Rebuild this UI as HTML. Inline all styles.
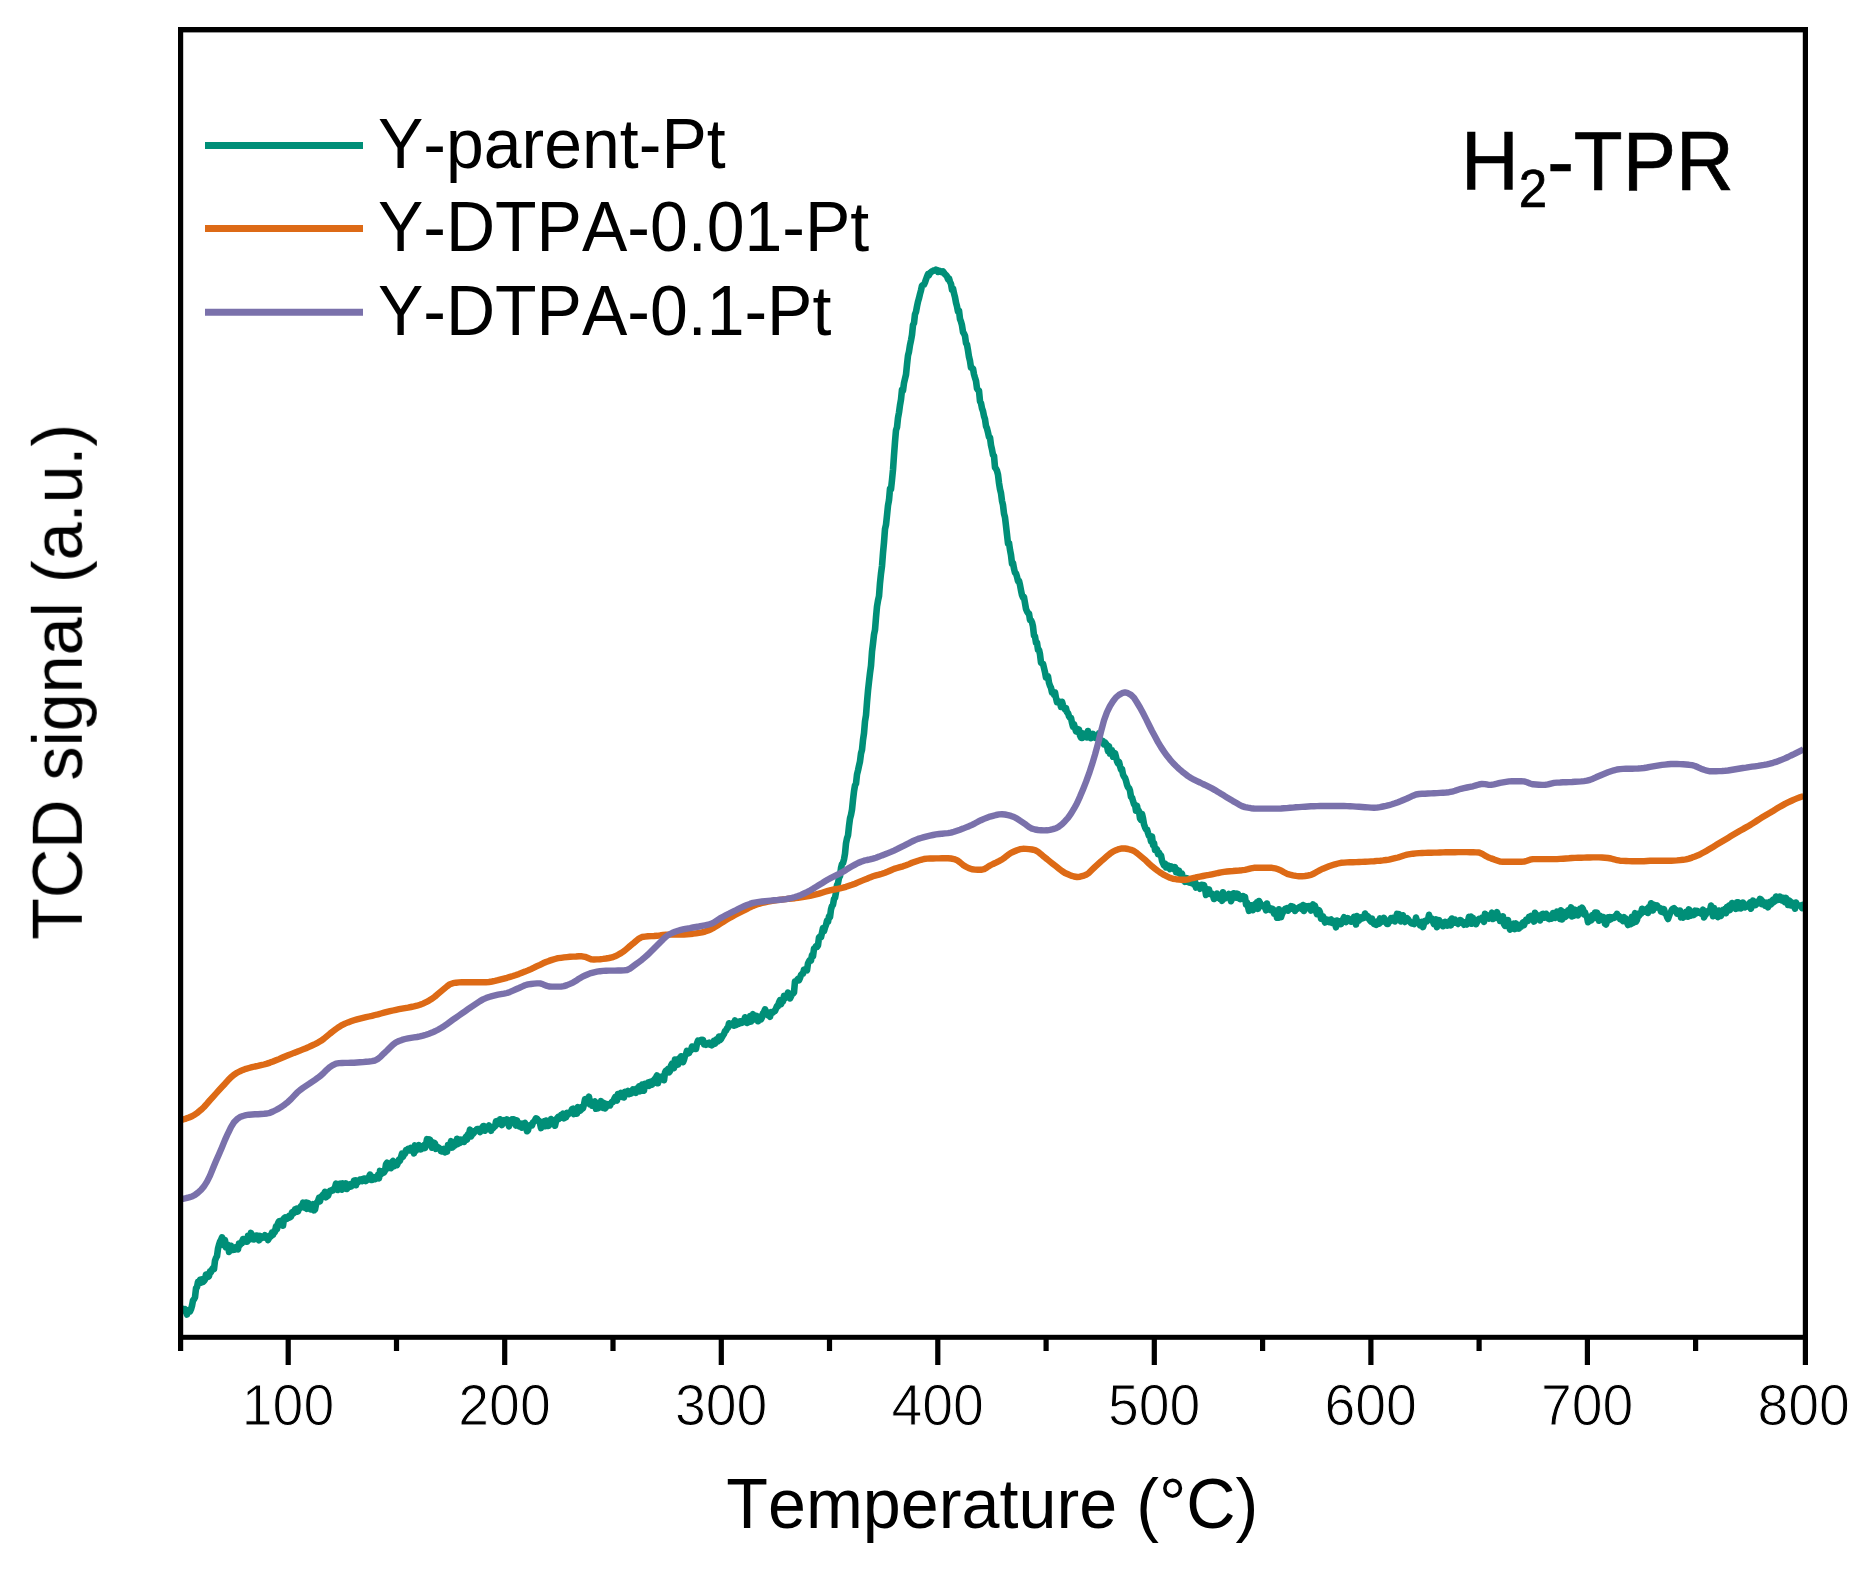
<!DOCTYPE html>
<html lang="en"><head><meta charset="utf-8"><title>H2-TPR</title>
<style>html,body{margin:0;padding:0;background:#fff}body{width:1872px;height:1571px;overflow:hidden}svg{display:block}</style></head>
<body>
<svg width="1872" height="1571" viewBox="0 0 1872 1571">
<rect width="1872" height="1571" fill="#fff"/>
<defs><clipPath id="plot"><rect x="180" y="29" width="1625.5" height="1309"/></clipPath><filter id="soft" x="0" y="0" width="1872" height="1571" filterUnits="userSpaceOnUse"><feGaussianBlur stdDeviation="0.6"/></filter></defs>
<g filter="url(#soft)">
<g clip-path="url(#plot)" fill="none" stroke-linejoin="round" stroke-linecap="butt">
<path d="M180.0 1309.7 L181.0 1311.1 L182.0 1310.2 L183.0 1309.1 L184.0 1310.2 L185.0 1309.3 L186.0 1311.9 L187.0 1314.5 L188.0 1310.2 L189.0 1310.1 L190.0 1311.5 L191.0 1309.2 L192.0 1305.8 L193.0 1300.4 L194.0 1299.3 L195.0 1297.3 L196.0 1288.3 L197.0 1287.2 L198.0 1281.9 L199.0 1282.1 L200.0 1279.9 L201.0 1282.6 L202.0 1279.3 L203.0 1282.0 L204.0 1281.0 L205.0 1279.4 L206.0 1274.5 L207.0 1276.7 L208.0 1277.0 L209.0 1276.2 L210.0 1271.4 L211.0 1272.1 L212.0 1269.6 L213.0 1268.0 L214.0 1269.1 L215.0 1260.6 L216.0 1257.9 L217.0 1256.2 L218.0 1248.6 L219.0 1244.8 L220.0 1241.7 L221.0 1240.0 L222.0 1237.4 L223.0 1241.3 L224.0 1245.3 L225.0 1240.1 L226.0 1247.2 L227.0 1245.9 L228.0 1245.0 L229.0 1251.9 L230.0 1249.6 L231.0 1245.8 L232.0 1248.9 L233.0 1249.8 L234.0 1248.1 L235.0 1249.6 L236.0 1247.3 L237.0 1248.4 L238.0 1249.3 L239.0 1243.5 L240.0 1245.0 L241.0 1242.5 L242.0 1242.9 L243.0 1239.0 L244.0 1239.5 L245.0 1239.6 L246.0 1241.7 L247.0 1241.7 L248.0 1235.8 L249.0 1236.7 L250.0 1239.4 L251.0 1232.9 L252.0 1236.1 L253.0 1236.9 L254.0 1239.4 L255.0 1238.1 L256.0 1235.5 L257.0 1235.5 L258.0 1235.9 L259.0 1240.4 L260.0 1235.9 L261.0 1236.7 L262.0 1238.0 L263.0 1237.2 L264.0 1237.4 L265.0 1235.2 L266.0 1237.8 L267.0 1236.7 L268.0 1240.0 L269.0 1238.1 L270.0 1235.6 L271.0 1236.2 L272.0 1232.7 L273.0 1234.8 L274.0 1231.4 L275.0 1231.8 L276.0 1226.4 L277.0 1229.1 L278.0 1223.3 L279.0 1221.4 L280.0 1224.0 L281.0 1221.0 L282.0 1222.3 L283.0 1225.7 L284.0 1218.4 L285.0 1217.6 L286.0 1219.0 L287.0 1218.8 L288.0 1217.1 L289.0 1216.0 L290.0 1217.4 L291.0 1216.5 L292.0 1212.4 L293.0 1213.6 L294.0 1213.0 L295.0 1209.3 L296.0 1211.7 L297.0 1208.6 L298.0 1211.5 L299.0 1208.7 L300.0 1208.1 L301.0 1206.1 L302.0 1207.1 L303.0 1202.6 L304.0 1204.2 L305.0 1207.8 L306.0 1202.6 L307.0 1208.8 L308.0 1203.0 L309.0 1208.7 L310.0 1205.4 L311.0 1209.4 L312.0 1207.9 L313.0 1204.1 L314.0 1210.3 L315.0 1209.5 L316.0 1204.6 L317.0 1202.3 L318.0 1201.3 L319.0 1198.0 L320.0 1201.3 L321.0 1196.6 L322.0 1196.9 L323.0 1194.6 L324.0 1194.2 L325.0 1191.8 L326.0 1197.3 L327.0 1193.6 L328.0 1195.7 L329.0 1193.1 L330.0 1190.8 L331.0 1191.1 L332.0 1190.1 L333.0 1190.4 L334.0 1188.6 L335.0 1187.4 L336.0 1183.7 L337.0 1184.8 L338.0 1190.0 L339.0 1184.3 L340.0 1183.7 L341.0 1186.9 L342.0 1189.7 L343.0 1183.4 L344.0 1186.2 L345.0 1185.5 L346.0 1183.4 L347.0 1189.0 L348.0 1186.8 L349.0 1186.8 L350.0 1184.4 L351.0 1186.6 L352.0 1183.8 L353.0 1184.0 L354.0 1180.6 L355.0 1180.3 L356.0 1185.2 L357.0 1180.6 L358.0 1182.2 L359.0 1181.1 L360.0 1179.6 L361.0 1179.4 L362.0 1181.1 L363.0 1178.9 L364.0 1178.6 L365.0 1178.5 L366.0 1181.0 L367.0 1179.7 L368.0 1178.6 L369.0 1176.8 L370.0 1174.6 L371.0 1179.9 L372.0 1180.0 L373.0 1176.8 L374.0 1178.4 L375.0 1179.1 L376.0 1178.5 L377.0 1178.4 L378.0 1174.9 L379.0 1178.4 L380.0 1170.9 L381.0 1174.3 L382.0 1171.6 L383.0 1171.2 L384.0 1172.5 L385.0 1170.7 L386.0 1164.3 L387.0 1162.8 L388.0 1168.3 L389.0 1164.3 L390.0 1166.4 L391.0 1168.1 L392.0 1162.1 L393.0 1161.1 L394.0 1166.2 L395.0 1165.4 L396.0 1164.6 L397.0 1165.1 L398.0 1162.5 L399.0 1159.6 L400.0 1160.6 L401.0 1157.1 L402.0 1153.7 L403.0 1156.8 L404.0 1153.8 L405.0 1153.8 L406.0 1150.1 L407.0 1150.5 L408.0 1148.9 L409.0 1148.6 L410.0 1150.4 L411.0 1147.8 L412.0 1150.0 L413.0 1149.5 L414.0 1153.4 L415.0 1145.4 L416.0 1150.7 L417.0 1148.3 L418.0 1148.4 L419.0 1145.2 L420.0 1147.4 L421.0 1149.4 L422.0 1147.0 L423.0 1146.5 L424.0 1145.3 L425.0 1148.0 L426.0 1144.4 L427.0 1139.2 L428.0 1142.2 L429.0 1139.4 L430.0 1139.8 L431.0 1143.0 L432.0 1147.7 L433.0 1145.1 L434.0 1142.7 L435.0 1143.7 L436.0 1148.8 L437.0 1146.5 L438.0 1147.3 L439.0 1147.9 L440.0 1148.8 L441.0 1151.2 L442.0 1151.5 L443.0 1151.2 L444.0 1149.0 L445.0 1152.3 L446.0 1148.5 L447.0 1151.7 L448.0 1145.2 L449.0 1146.2 L450.0 1145.3 L451.0 1141.2 L452.0 1147.6 L453.0 1147.0 L454.0 1142.5 L455.0 1145.3 L456.0 1144.5 L457.0 1138.8 L458.0 1143.9 L459.0 1143.0 L460.0 1142.9 L461.0 1139.6 L462.0 1140.4 L463.0 1139.7 L464.0 1141.9 L465.0 1138.8 L466.0 1136.8 L467.0 1139.7 L468.0 1134.2 L469.0 1133.9 L470.0 1129.6 L471.0 1136.5 L472.0 1134.6 L473.0 1133.9 L474.0 1132.7 L475.0 1130.7 L476.0 1130.7 L477.0 1129.0 L478.0 1129.0 L479.0 1129.0 L480.0 1132.0 L481.0 1129.3 L482.0 1128.0 L483.0 1126.3 L484.0 1126.1 L485.0 1130.7 L486.0 1128.4 L487.0 1127.8 L488.0 1127.1 L489.0 1125.5 L490.0 1128.4 L491.0 1130.8 L492.0 1128.1 L493.0 1128.2 L494.0 1126.9 L495.0 1126.5 L496.0 1121.3 L497.0 1123.4 L498.0 1120.8 L499.0 1123.9 L500.0 1119.3 L501.0 1122.9 L502.0 1125.1 L503.0 1120.9 L504.0 1120.2 L505.0 1122.2 L506.0 1121.5 L507.0 1119.5 L508.0 1122.8 L509.0 1126.3 L510.0 1121.3 L511.0 1121.5 L512.0 1119.5 L513.0 1122.8 L514.0 1119.5 L515.0 1120.1 L516.0 1125.6 L517.0 1120.4 L518.0 1124.8 L519.0 1126.2 L520.0 1123.4 L521.0 1124.3 L522.0 1127.7 L523.0 1123.5 L524.0 1123.9 L525.0 1123.0 L526.0 1127.0 L527.0 1131.2 L528.0 1130.3 L529.0 1125.9 L530.0 1125.4 L531.0 1124.6 L532.0 1125.3 L533.0 1122.5 L534.0 1121.6 L535.0 1120.3 L536.0 1118.3 L537.0 1118.7 L538.0 1120.3 L539.0 1120.7 L540.0 1123.3 L541.0 1128.1 L542.0 1126.1 L543.0 1125.4 L544.0 1121.4 L545.0 1126.2 L546.0 1120.5 L547.0 1121.2 L548.0 1126.0 L549.0 1125.6 L550.0 1123.1 L551.0 1119.0 L552.0 1121.2 L553.0 1120.2 L554.0 1123.1 L555.0 1125.7 L556.0 1121.2 L557.0 1118.5 L558.0 1117.1 L559.0 1118.9 L560.0 1117.8 L561.0 1115.2 L562.0 1117.3 L563.0 1113.6 L564.0 1118.3 L565.0 1117.6 L566.0 1117.2 L567.0 1112.9 L568.0 1114.7 L569.0 1113.2 L570.0 1112.3 L571.0 1111.7 L572.0 1109.1 L573.0 1108.6 L574.0 1114.1 L575.0 1111.4 L576.0 1112.1 L577.0 1113.5 L578.0 1107.2 L579.0 1109.2 L580.0 1110.8 L581.0 1109.9 L582.0 1106.8 L583.0 1108.2 L584.0 1104.4 L585.0 1099.3 L586.0 1099.1 L587.0 1102.7 L588.0 1101.9 L589.0 1096.7 L590.0 1104.2 L591.0 1103.0 L592.0 1105.7 L593.0 1102.1 L594.0 1102.7 L595.0 1101.6 L596.0 1108.8 L597.0 1103.9 L598.0 1108.3 L599.0 1102.8 L600.0 1104.7 L601.0 1101.1 L602.0 1104.3 L603.0 1107.9 L604.0 1103.1 L605.0 1108.5 L606.0 1107.2 L607.0 1104.2 L608.0 1105.5 L609.0 1105.2 L610.0 1105.5 L611.0 1103.4 L612.0 1101.8 L613.0 1101.9 L614.0 1099.4 L615.0 1097.3 L616.0 1099.2 L617.0 1100.4 L618.0 1094.1 L619.0 1096.8 L620.0 1094.7 L621.0 1092.9 L622.0 1096.8 L623.0 1093.3 L624.0 1097.5 L625.0 1091.8 L626.0 1094.1 L627.0 1092.6 L628.0 1091.1 L629.0 1094.1 L630.0 1092.1 L631.0 1093.6 L632.0 1091.7 L633.0 1089.4 L634.0 1091.3 L635.0 1091.4 L636.0 1092.8 L637.0 1088.3 L638.0 1090.1 L639.0 1086.4 L640.0 1091.3 L641.0 1086.7 L642.0 1084.6 L643.0 1088.7 L644.0 1090.6 L645.0 1083.7 L646.0 1083.8 L647.0 1084.1 L648.0 1082.8 L649.0 1085.8 L650.0 1082.0 L651.0 1081.7 L652.0 1084.6 L653.0 1080.7 L654.0 1082.9 L655.0 1078.8 L656.0 1077.5 L657.0 1075.5 L658.0 1083.3 L659.0 1077.3 L660.0 1078.4 L661.0 1076.9 L662.0 1077.0 L663.0 1076.5 L664.0 1080.2 L665.0 1072.6 L666.0 1070.6 L667.0 1070.6 L668.0 1069.0 L669.0 1072.3 L670.0 1071.1 L671.0 1065.7 L672.0 1063.7 L673.0 1064.9 L674.0 1068.1 L675.0 1059.5 L676.0 1064.5 L677.0 1060.2 L678.0 1064.6 L679.0 1058.7 L680.0 1060.1 L681.0 1056.3 L682.0 1057.0 L683.0 1062.2 L684.0 1059.8 L685.0 1055.9 L686.0 1054.2 L687.0 1050.8 L688.0 1053.4 L689.0 1053.0 L690.0 1051.0 L691.0 1050.2 L692.0 1046.5 L693.0 1048.0 L694.0 1047.1 L695.0 1049.0 L696.0 1048.9 L697.0 1043.3 L698.0 1040.6 L699.0 1041.9 L700.0 1040.6 L701.0 1039.9 L702.0 1041.6 L703.0 1040.0 L704.0 1044.3 L705.0 1043.2 L706.0 1044.7 L707.0 1043.8 L708.0 1043.1 L709.0 1042.7 L710.0 1044.5 L711.0 1043.3 L712.0 1045.2 L713.0 1044.2 L714.0 1040.8 L715.0 1043.6 L716.0 1039.7 L717.0 1040.8 L718.0 1041.4 L719.0 1036.5 L720.0 1040.0 L721.0 1039.1 L722.0 1037.1 L723.0 1035.3 L724.0 1034.0 L725.0 1031.0 L726.0 1030.6 L727.0 1028.3 L728.0 1027.8 L729.0 1023.3 L730.0 1025.5 L731.0 1024.9 L732.0 1023.9 L733.0 1023.1 L734.0 1025.6 L735.0 1020.4 L736.0 1025.1 L737.0 1024.4 L738.0 1024.0 L739.0 1023.8 L740.0 1021.2 L741.0 1021.3 L742.0 1022.8 L743.0 1021.9 L744.0 1021.2 L745.0 1017.3 L746.0 1021.9 L747.0 1022.9 L748.0 1022.3 L749.0 1020.5 L750.0 1016.2 L751.0 1021.6 L752.0 1018.6 L753.0 1014.1 L754.0 1019.6 L755.0 1015.7 L756.0 1015.7 L757.0 1017.2 L758.0 1021.2 L759.0 1016.6 L760.0 1017.2 L761.0 1019.4 L762.0 1017.5 L763.0 1013.2 L764.0 1011.9 L765.0 1009.4 L766.0 1011.3 L767.0 1014.5 L768.0 1015.2 L769.0 1015.2 L770.0 1016.8 L771.0 1012.2 L772.0 1012.7 L773.0 1012.6 L774.0 1011.0 L775.0 1011.1 L776.0 1008.5 L777.0 1006.1 L778.0 1006.4 L779.0 1002.3 L780.0 1000.2 L781.0 1004.2 L782.0 1001.7 L783.0 1001.5 L784.0 995.9 L785.0 998.2 L786.0 996.9 L787.0 995.7 L788.0 992.6 L789.0 995.6 L790.0 998.4 L791.0 996.5 L792.0 993.6 L793.0 993.7 L794.0 992.5 L795.0 981.3 L796.0 981.2 L797.0 980.1 L798.0 978.9 L799.0 980.3 L800.0 977.9 L801.0 975.0 L802.0 973.9 L803.0 973.8 L804.0 969.6 L805.0 969.3 L806.0 969.8 L807.0 970.3 L808.0 963.4 L809.0 961.4 L810.0 959.9 L811.0 960.5 L812.0 955.2 L813.0 956.3 L814.0 948.6 L815.0 948.0 L816.0 946.2 L817.0 946.8 L818.0 945.3 L819.0 937.4 L820.0 936.5 L821.0 937.3 L822.0 932.8 L823.0 928.0 L824.0 931.1 L825.0 927.5 L826.0 925.1 L827.0 920.6 L828.0 921.8 L829.0 916.3 L830.0 917.0 L831.0 909.4 L832.0 906.0 L833.0 904.8 L834.0 899.0 L835.0 897.9 L836.0 892.5 L837.0 885.2 L838.0 883.0 L839.0 877.8 L840.0 876.1 L841.0 868.1 L842.0 864.0 L843.0 863.0 L844.0 859.4 L845.0 853.7 L846.0 843.4 L847.0 838.4 L848.0 835.5 L849.0 826.2 L850.0 818.5 L851.0 814.9 L852.0 809.7 L853.0 799.9 L854.0 791.4 L855.0 785.4 L856.0 783.7 L857.0 774.5 L858.0 770.5 L859.0 765.8 L860.0 761.4 L861.0 753.5 L862.0 749.9 L863.0 740.0 L864.0 733.3 L865.0 721.3 L866.0 715.2 L867.0 702.3 L868.0 690.7 L869.0 681.7 L870.0 673.0 L871.0 665.8 L872.0 651.7 L873.0 643.5 L874.0 634.7 L875.0 629.9 L876.0 617.6 L877.0 606.5 L878.0 600.6 L879.0 596.2 L880.0 583.1 L881.0 573.5 L882.0 566.1 L883.0 553.1 L884.0 542.4 L885.0 529.1 L886.0 524.8 L887.0 515.4 L888.0 505.5 L889.0 500.2 L890.0 488.9 L891.0 489.2 L892.0 480.0 L893.0 469.8 L894.0 455.3 L895.0 442.0 L896.0 430.3 L897.0 427.3 L898.0 417.9 L899.0 412.5 L900.0 405.1 L901.0 399.5 L902.0 389.7 L903.0 390.7 L904.0 382.9 L905.0 378.7 L906.0 374.6 L907.0 364.7 L908.0 355.5 L909.0 351.6 L910.0 345.1 L911.0 340.3 L912.0 334.9 L913.0 324.8 L914.0 323.1 L915.0 314.2 L916.0 311.9 L917.0 306.4 L918.0 301.6 L919.0 298.3 L920.0 294.0 L921.0 290.3 L922.0 285.6 L923.0 284.9 L924.0 284.6 L925.0 282.4 L926.0 279.4 L927.0 276.8 L928.0 274.2 L929.0 275.2 L930.0 273.1 L931.0 272.2 L932.0 271.4 L933.0 271.0 L934.0 270.3 L935.0 270.4 L936.0 269.6 L937.0 270.1 L938.0 271.9 L939.0 270.8 L940.0 271.0 L941.0 271.9 L942.0 272.4 L943.0 271.4 L944.0 272.7 L945.0 274.5 L946.0 275.0 L947.0 276.3 L948.0 279.2 L949.0 278.5 L950.0 281.8 L951.0 283.9 L952.0 289.8 L953.0 288.5 L954.0 293.4 L955.0 297.2 L956.0 302.7 L957.0 306.4 L958.0 311.6 L959.0 310.7 L960.0 319.0 L961.0 321.7 L962.0 325.4 L963.0 332.1 L964.0 333.6 L965.0 335.8 L966.0 343.1 L967.0 344.6 L968.0 350.4 L969.0 356.9 L970.0 360.9 L971.0 367.7 L972.0 367.9 L973.0 368.6 L974.0 374.4 L975.0 377.8 L976.0 380.9 L977.0 388.6 L978.0 389.9 L979.0 390.8 L980.0 401.2 L981.0 403.2 L982.0 408.3 L983.0 411.2 L984.0 416.2 L985.0 419.1 L986.0 426.1 L987.0 428.4 L988.0 432.6 L989.0 437.1 L990.0 437.5 L991.0 445.2 L992.0 449.5 L993.0 454.8 L994.0 455.8 L995.0 467.5 L996.0 468.8 L997.0 470.8 L998.0 474.6 L999.0 483.0 L1000.0 489.1 L1001.0 493.1 L1002.0 500.9 L1003.0 505.1 L1004.0 513.7 L1005.0 517.4 L1006.0 525.8 L1007.0 534.5 L1008.0 543.5 L1009.0 542.9 L1010.0 549.9 L1011.0 555.0 L1012.0 563.5 L1013.0 563.1 L1014.0 568.6 L1015.0 572.7 L1016.0 573.4 L1017.0 576.8 L1018.0 581.0 L1019.0 580.8 L1020.0 585.0 L1021.0 590.3 L1022.0 595.1 L1023.0 597.6 L1024.0 597.2 L1025.0 603.1 L1026.0 608.9 L1027.0 611.3 L1028.0 612.8 L1029.0 613.6 L1030.0 620.1 L1031.0 620.2 L1032.0 622.3 L1033.0 626.6 L1034.0 635.6 L1035.0 636.5 L1036.0 642.8 L1037.0 642.8 L1038.0 649.7 L1039.0 649.7 L1040.0 654.3 L1041.0 662.7 L1042.0 663.5 L1043.0 663.8 L1044.0 668.0 L1045.0 672.2 L1046.0 677.7 L1047.0 676.9 L1048.0 676.5 L1049.0 682.7 L1050.0 685.8 L1051.0 687.8 L1052.0 692.5 L1053.0 691.6 L1054.0 694.8 L1055.0 692.4 L1056.0 698.0 L1057.0 702.2 L1058.0 701.0 L1059.0 701.6 L1060.0 702.6 L1061.0 706.9 L1062.0 701.8 L1063.0 705.2 L1064.0 707.7 L1065.0 709.5 L1066.0 708.2 L1067.0 712.2 L1068.0 713.0 L1069.0 716.2 L1070.0 717.8 L1071.0 718.0 L1072.0 722.9 L1073.0 726.7 L1074.0 724.2 L1075.0 728.1 L1076.0 731.4 L1077.0 728.8 L1078.0 732.0 L1079.0 729.5 L1080.0 735.5 L1081.0 737.8 L1082.0 738.0 L1083.0 733.4 L1084.0 735.5 L1085.0 734.1 L1086.0 734.4 L1087.0 737.4 L1088.0 731.0 L1089.0 736.8 L1090.0 734.3 L1091.0 738.1 L1092.0 735.8 L1093.0 733.9 L1094.0 736.5 L1095.0 737.7 L1096.0 736.5 L1097.0 738.2 L1098.0 736.4 L1099.0 733.3 L1100.0 740.8 L1101.0 740.8 L1102.0 740.6 L1103.0 741.2 L1104.0 744.4 L1105.0 742.5 L1106.0 743.6 L1107.0 746.1 L1108.0 751.1 L1109.0 746.3 L1110.0 753.5 L1111.0 750.7 L1112.0 750.4 L1113.0 756.7 L1114.0 754.8 L1115.0 753.2 L1116.0 756.9 L1117.0 761.2 L1118.0 763.6 L1119.0 761.8 L1120.0 766.1 L1121.0 769.6 L1122.0 769.1 L1123.0 774.5 L1124.0 776.6 L1125.0 777.8 L1126.0 780.8 L1127.0 784.7 L1128.0 787.2 L1129.0 788.0 L1130.0 790.7 L1131.0 796.9 L1132.0 797.5 L1133.0 801.1 L1134.0 804.2 L1135.0 804.7 L1136.0 810.6 L1137.0 805.8 L1138.0 811.4 L1139.0 811.1 L1140.0 818.3 L1141.0 819.8 L1142.0 813.9 L1143.0 818.3 L1144.0 824.4 L1145.0 827.2 L1146.0 829.2 L1147.0 829.4 L1148.0 833.0 L1149.0 836.0 L1150.0 836.4 L1151.0 841.3 L1152.0 836.5 L1153.0 844.8 L1154.0 843.1 L1155.0 849.8 L1156.0 848.7 L1157.0 849.5 L1158.0 854.1 L1159.0 852.7 L1160.0 854.7 L1161.0 855.4 L1162.0 860.7 L1163.0 863.2 L1164.0 865.4 L1165.0 863.7 L1166.0 867.5 L1167.0 865.4 L1168.0 865.6 L1169.0 867.6 L1170.0 869.1 L1171.0 866.3 L1172.0 867.0 L1173.0 867.6 L1174.0 869.0 L1175.0 867.1 L1176.0 872.2 L1177.0 869.9 L1178.0 872.6 L1179.0 870.6 L1180.0 873.9 L1181.0 874.5 L1182.0 873.7 L1183.0 880.1 L1184.0 877.5 L1185.0 881.8 L1186.0 880.5 L1187.0 878.2 L1188.0 879.9 L1189.0 882.4 L1190.0 882.6 L1191.0 883.0 L1192.0 882.8 L1193.0 880.2 L1194.0 884.5 L1195.0 881.2 L1196.0 887.6 L1197.0 884.9 L1198.0 885.2 L1199.0 886.9 L1200.0 888.7 L1201.0 885.0 L1202.0 884.8 L1203.0 886.7 L1204.0 885.2 L1205.0 888.6 L1206.0 894.9 L1207.0 889.1 L1208.0 893.5 L1209.0 889.5 L1210.0 893.9 L1211.0 893.2 L1212.0 893.7 L1213.0 895.5 L1214.0 899.0 L1215.0 895.6 L1216.0 895.7 L1217.0 893.6 L1218.0 897.6 L1219.0 896.3 L1220.0 898.8 L1221.0 896.7 L1222.0 900.8 L1223.0 892.2 L1224.0 896.0 L1225.0 898.5 L1226.0 895.6 L1227.0 895.2 L1228.0 896.4 L1229.0 894.0 L1230.0 897.3 L1231.0 901.2 L1232.0 899.0 L1233.0 893.5 L1234.0 893.3 L1235.0 894.2 L1236.0 897.5 L1237.0 893.6 L1238.0 894.2 L1239.0 898.3 L1240.0 899.0 L1241.0 896.9 L1242.0 896.2 L1243.0 896.1 L1244.0 898.9 L1245.0 896.9 L1246.0 904.2 L1247.0 902.6 L1248.0 906.7 L1249.0 910.9 L1250.0 910.0 L1251.0 905.3 L1252.0 909.5 L1253.0 910.1 L1254.0 905.2 L1255.0 904.2 L1256.0 905.7 L1257.0 902.3 L1258.0 908.8 L1259.0 901.0 L1260.0 903.0 L1261.0 904.7 L1262.0 905.0 L1263.0 906.2 L1264.0 907.0 L1265.0 906.4 L1266.0 910.3 L1267.0 903.5 L1268.0 908.9 L1269.0 907.4 L1270.0 909.8 L1271.0 910.3 L1272.0 908.6 L1273.0 909.3 L1274.0 913.6 L1275.0 912.9 L1276.0 911.1 L1277.0 917.8 L1278.0 917.8 L1279.0 909.3 L1280.0 913.7 L1281.0 917.2 L1282.0 914.1 L1283.0 912.2 L1284.0 910.5 L1285.0 909.0 L1286.0 909.8 L1287.0 908.3 L1288.0 910.7 L1289.0 907.8 L1290.0 907.9 L1291.0 906.1 L1292.0 908.6 L1293.0 906.6 L1294.0 908.1 L1295.0 910.9 L1296.0 909.1 L1297.0 908.8 L1298.0 908.2 L1299.0 907.5 L1300.0 906.8 L1301.0 906.4 L1302.0 909.0 L1303.0 905.0 L1304.0 911.0 L1305.0 908.1 L1306.0 906.1 L1307.0 906.8 L1308.0 906.3 L1309.0 908.2 L1310.0 906.3 L1311.0 910.6 L1312.0 906.5 L1313.0 904.5 L1314.0 908.0 L1315.0 905.8 L1316.0 911.1 L1317.0 914.2 L1318.0 913.9 L1319.0 910.1 L1320.0 912.3 L1321.0 918.6 L1322.0 916.2 L1323.0 916.3 L1324.0 919.6 L1325.0 922.5 L1326.0 921.9 L1327.0 919.6 L1328.0 920.8 L1329.0 922.1 L1330.0 920.0 L1331.0 919.5 L1332.0 922.8 L1333.0 920.8 L1334.0 922.7 L1335.0 922.9 L1336.0 927.3 L1337.0 920.5 L1338.0 922.1 L1339.0 921.5 L1340.0 922.6 L1341.0 924.0 L1342.0 920.7 L1343.0 919.4 L1344.0 917.3 L1345.0 918.7 L1346.0 922.0 L1347.0 920.6 L1348.0 918.2 L1349.0 919.3 L1350.0 920.4 L1351.0 921.6 L1352.0 919.2 L1353.0 920.5 L1354.0 916.8 L1355.0 918.1 L1356.0 924.5 L1357.0 916.0 L1358.0 919.4 L1359.0 920.4 L1360.0 918.8 L1361.0 917.5 L1362.0 918.6 L1363.0 918.1 L1364.0 917.7 L1365.0 913.5 L1366.0 917.4 L1367.0 915.6 L1368.0 916.5 L1369.0 919.1 L1370.0 920.4 L1371.0 921.6 L1372.0 918.7 L1373.0 922.7 L1374.0 923.9 L1375.0 924.1 L1376.0 924.8 L1377.0 921.6 L1378.0 921.4 L1379.0 923.8 L1380.0 918.4 L1381.0 922.2 L1382.0 920.7 L1383.0 921.2 L1384.0 917.9 L1385.0 920.0 L1386.0 922.1 L1387.0 924.0 L1388.0 923.9 L1389.0 920.8 L1390.0 920.2 L1391.0 918.2 L1392.0 920.5 L1393.0 918.0 L1394.0 919.2 L1395.0 921.4 L1396.0 917.4 L1397.0 913.9 L1398.0 915.5 L1399.0 914.2 L1400.0 915.3 L1401.0 921.4 L1402.0 919.2 L1403.0 915.3 L1404.0 920.5 L1405.0 921.9 L1406.0 918.6 L1407.0 918.2 L1408.0 919.1 L1409.0 920.8 L1410.0 921.7 L1411.0 923.0 L1412.0 923.5 L1413.0 923.6 L1414.0 924.1 L1415.0 922.9 L1416.0 917.6 L1417.0 921.2 L1418.0 922.6 L1419.0 921.9 L1420.0 925.3 L1421.0 923.2 L1422.0 922.0 L1423.0 927.1 L1424.0 923.6 L1425.0 920.7 L1426.0 920.6 L1427.0 921.2 L1428.0 919.6 L1429.0 914.8 L1430.0 918.3 L1431.0 919.4 L1432.0 918.7 L1433.0 921.8 L1434.0 924.2 L1435.0 920.7 L1436.0 919.4 L1437.0 927.2 L1438.0 921.7 L1439.0 920.1 L1440.0 924.1 L1441.0 924.7 L1442.0 922.3 L1443.0 926.2 L1444.0 923.0 L1445.0 922.1 L1446.0 924.9 L1447.0 925.6 L1448.0 922.3 L1449.0 923.0 L1450.0 920.8 L1451.0 925.3 L1452.0 918.6 L1453.0 923.1 L1454.0 920.3 L1455.0 919.8 L1456.0 922.7 L1457.0 923.0 L1458.0 923.9 L1459.0 922.1 L1460.0 920.1 L1461.0 920.2 L1462.0 922.8 L1463.0 922.5 L1464.0 924.7 L1465.0 922.4 L1466.0 923.3 L1467.0 924.4 L1468.0 921.0 L1469.0 916.9 L1470.0 917.7 L1471.0 916.7 L1472.0 923.7 L1473.0 918.1 L1474.0 922.9 L1475.0 921.5 L1476.0 924.2 L1477.0 922.3 L1478.0 919.6 L1479.0 918.9 L1480.0 919.4 L1481.0 919.3 L1482.0 917.6 L1483.0 918.3 L1484.0 921.8 L1485.0 913.8 L1486.0 918.2 L1487.0 915.1 L1488.0 917.4 L1489.0 918.5 L1490.0 916.0 L1491.0 917.8 L1492.0 912.7 L1493.0 918.9 L1494.0 915.1 L1495.0 918.0 L1496.0 916.9 L1497.0 912.2 L1498.0 915.3 L1499.0 917.2 L1500.0 920.9 L1501.0 918.6 L1502.0 919.3 L1503.0 916.4 L1504.0 924.2 L1505.0 925.9 L1506.0 922.8 L1507.0 922.5 L1508.0 920.1 L1509.0 926.3 L1510.0 929.5 L1511.0 926.8 L1512.0 928.1 L1513.0 926.8 L1514.0 923.6 L1515.0 929.1 L1516.0 923.4 L1517.0 925.7 L1518.0 926.9 L1519.0 928.5 L1520.0 926.9 L1521.0 926.8 L1522.0 923.9 L1523.0 922.4 L1524.0 925.1 L1525.0 922.3 L1526.0 919.9 L1527.0 919.8 L1528.0 920.8 L1529.0 916.8 L1530.0 917.3 L1531.0 915.9 L1532.0 919.3 L1533.0 919.0 L1534.0 921.5 L1535.0 912.9 L1536.0 914.7 L1537.0 918.0 L1538.0 915.5 L1539.0 915.7 L1540.0 920.5 L1541.0 916.1 L1542.0 914.2 L1543.0 913.8 L1544.0 917.7 L1545.0 917.7 L1546.0 913.8 L1547.0 914.9 L1548.0 918.4 L1549.0 919.0 L1550.0 916.1 L1551.0 918.7 L1552.0 918.5 L1553.0 913.0 L1554.0 916.5 L1555.0 917.8 L1556.0 915.1 L1557.0 911.6 L1558.0 915.3 L1559.0 917.3 L1560.0 918.8 L1561.0 910.4 L1562.0 919.5 L1563.0 911.8 L1564.0 916.6 L1565.0 917.1 L1566.0 916.4 L1567.0 914.0 L1568.0 910.3 L1569.0 914.2 L1570.0 910.7 L1571.0 907.4 L1572.0 916.4 L1573.0 913.0 L1574.0 915.6 L1575.0 909.7 L1576.0 914.5 L1577.0 915.1 L1578.0 915.4 L1579.0 911.7 L1580.0 909.0 L1581.0 911.6 L1582.0 907.7 L1583.0 909.3 L1584.0 914.3 L1585.0 912.5 L1586.0 915.6 L1587.0 916.8 L1588.0 922.2 L1589.0 920.9 L1590.0 918.0 L1591.0 920.5 L1592.0 915.4 L1593.0 915.8 L1594.0 918.2 L1595.0 912.5 L1596.0 915.0 L1597.0 912.7 L1598.0 916.3 L1599.0 920.7 L1600.0 915.8 L1601.0 919.0 L1602.0 917.3 L1603.0 917.0 L1604.0 917.3 L1605.0 923.7 L1606.0 924.5 L1607.0 921.1 L1608.0 917.4 L1609.0 920.1 L1610.0 917.2 L1611.0 919.1 L1612.0 917.4 L1613.0 917.6 L1614.0 917.9 L1615.0 916.1 L1616.0 916.7 L1617.0 913.9 L1618.0 917.4 L1619.0 915.9 L1620.0 919.0 L1621.0 917.6 L1622.0 919.9 L1623.0 921.0 L1624.0 917.2 L1625.0 918.9 L1626.0 918.7 L1627.0 922.6 L1628.0 925.0 L1629.0 923.1 L1630.0 920.4 L1631.0 924.1 L1632.0 916.7 L1633.0 923.1 L1634.0 917.4 L1635.0 913.2 L1636.0 921.7 L1637.0 919.9 L1638.0 913.8 L1639.0 915.9 L1640.0 914.2 L1641.0 913.8 L1642.0 908.8 L1643.0 909.5 L1644.0 911.5 L1645.0 910.2 L1646.0 911.6 L1647.0 908.9 L1648.0 913.0 L1649.0 907.0 L1650.0 908.6 L1651.0 903.3 L1652.0 904.2 L1653.0 910.4 L1654.0 904.8 L1655.0 908.0 L1656.0 906.8 L1657.0 905.4 L1658.0 907.4 L1659.0 907.6 L1660.0 908.2 L1661.0 911.5 L1662.0 911.8 L1663.0 909.1 L1664.0 909.3 L1665.0 913.4 L1666.0 913.7 L1667.0 916.8 L1668.0 919.0 L1669.0 916.1 L1670.0 913.4 L1671.0 911.7 L1672.0 909.5 L1673.0 908.7 L1674.0 908.2 L1675.0 909.7 L1676.0 910.0 L1677.0 913.6 L1678.0 912.0 L1679.0 912.7 L1680.0 910.6 L1681.0 917.3 L1682.0 914.5 L1683.0 917.5 L1684.0 914.8 L1685.0 916.4 L1686.0 911.9 L1687.0 913.8 L1688.0 916.7 L1689.0 909.4 L1690.0 914.5 L1691.0 915.5 L1692.0 912.3 L1693.0 913.5 L1694.0 914.9 L1695.0 910.6 L1696.0 913.5 L1697.0 910.8 L1698.0 911.5 L1699.0 911.5 L1700.0 912.7 L1701.0 913.6 L1702.0 914.1 L1703.0 909.6 L1704.0 917.4 L1705.0 915.3 L1706.0 914.2 L1707.0 911.5 L1708.0 911.2 L1709.0 911.8 L1710.0 910.5 L1711.0 905.6 L1712.0 912.2 L1713.0 916.2 L1714.0 908.0 L1715.0 915.6 L1716.0 914.6 L1717.0 913.7 L1718.0 917.0 L1719.0 910.6 L1720.0 913.0 L1721.0 915.8 L1722.0 911.2 L1723.0 910.0 L1724.0 910.9 L1725.0 909.0 L1726.0 913.2 L1727.0 907.1 L1728.0 910.9 L1729.0 905.7 L1730.0 910.0 L1731.0 907.8 L1732.0 903.0 L1733.0 907.1 L1734.0 904.0 L1735.0 904.8 L1736.0 908.9 L1737.0 902.3 L1738.0 902.2 L1739.0 908.2 L1740.0 904.9 L1741.0 908.3 L1742.0 905.4 L1743.0 902.7 L1744.0 904.2 L1745.0 907.3 L1746.0 906.9 L1747.0 904.6 L1748.0 904.6 L1749.0 904.0 L1750.0 902.5 L1751.0 908.7 L1752.0 903.9 L1753.0 900.6 L1754.0 902.2 L1755.0 905.2 L1756.0 904.7 L1757.0 903.0 L1758.0 901.4 L1759.0 903.0 L1760.0 898.9 L1761.0 899.4 L1762.0 904.2 L1763.0 901.5 L1764.0 903.4 L1765.0 905.5 L1766.0 904.2 L1767.0 902.7 L1768.0 907.3 L1769.0 904.3 L1770.0 901.9 L1771.0 904.4 L1772.0 903.3 L1773.0 900.0 L1774.0 901.8 L1775.0 901.1 L1776.0 896.5 L1777.0 900.1 L1778.0 899.7 L1779.0 899.5 L1780.0 896.6 L1781.0 899.6 L1782.0 900.5 L1783.0 900.7 L1784.0 898.0 L1785.0 902.2 L1786.0 897.9 L1787.0 900.7 L1788.0 905.0 L1789.0 900.4 L1790.0 901.1 L1791.0 905.4 L1792.0 902.7 L1793.0 903.9 L1794.0 905.8 L1795.0 908.7 L1796.0 902.5 L1797.0 905.7 L1798.0 905.5 L1799.0 905.3 L1800.0 905.6 L1801.0 905.7 L1802.0 908.1 L1803.0 904.9 L1803.5 907.0" stroke="#048f78" stroke-width="6.6"/>
<path d="M180.0 1120.0 L183.0 1119.5 L186.0 1118.6 L189.0 1117.5 L192.0 1116.2 L195.0 1114.5 L198.0 1112.3 L201.0 1109.8 L204.0 1107.0 L207.0 1103.7 L210.0 1100.2 L213.0 1096.9 L216.0 1093.5 L219.0 1090.2 L222.0 1086.9 L225.0 1083.7 L228.0 1080.3 L231.0 1077.2 L234.0 1074.7 L237.0 1072.8 L240.0 1071.2 L243.0 1069.9 L246.0 1068.8 L249.0 1068.0 L252.0 1067.2 L255.0 1066.5 L258.0 1065.9 L261.0 1065.2 L264.0 1064.5 L267.0 1063.6 L270.0 1062.6 L273.0 1061.5 L276.0 1060.3 L279.0 1059.1 L282.0 1057.8 L285.0 1056.5 L288.0 1055.3 L291.0 1054.1 L294.0 1052.9 L297.0 1051.8 L300.0 1050.6 L303.0 1049.4 L306.0 1048.2 L309.0 1046.9 L312.0 1045.5 L315.0 1044.1 L318.0 1042.6 L321.0 1040.8 L324.0 1038.6 L327.0 1036.1 L330.0 1033.6 L333.0 1031.3 L336.0 1029.0 L339.0 1026.9 L342.0 1025.1 L345.0 1023.6 L348.0 1022.4 L351.0 1021.3 L354.0 1020.3 L357.0 1019.4 L360.0 1018.6 L363.0 1017.9 L366.0 1017.2 L369.0 1016.5 L372.0 1015.8 L375.0 1015.0 L378.0 1014.3 L381.0 1013.5 L384.0 1012.7 L387.0 1011.9 L390.0 1011.2 L393.0 1010.5 L396.0 1009.8 L399.0 1009.2 L402.0 1008.6 L405.0 1008.1 L408.0 1007.6 L411.0 1007.0 L414.0 1006.4 L417.0 1005.7 L420.0 1004.8 L423.0 1003.6 L426.0 1002.2 L429.0 1000.6 L432.0 998.8 L435.0 996.5 L438.0 993.9 L441.0 991.4 L444.0 988.9 L447.0 986.4 L450.0 984.2 L453.0 983.2 L456.0 982.7 L459.0 982.4 L462.0 982.2 L465.0 982.2 L468.0 982.2 L471.0 982.2 L474.0 982.2 L477.0 982.2 L480.0 982.2 L483.0 982.2 L486.0 982.2 L489.0 982.0 L492.0 981.5 L495.0 980.9 L498.0 980.2 L501.0 979.4 L504.0 978.6 L507.0 977.8 L510.0 976.9 L513.0 976.0 L516.0 975.0 L519.0 973.9 L522.0 972.7 L525.0 971.6 L528.0 970.4 L531.0 969.1 L534.0 967.7 L537.0 966.2 L540.0 964.8 L543.0 963.3 L546.0 962.0 L549.0 960.9 L552.0 959.9 L555.0 959.0 L558.0 958.2 L561.0 957.8 L564.0 957.4 L567.0 957.1 L570.0 956.8 L573.0 956.6 L576.0 956.5 L579.0 956.3 L582.0 956.3 L585.0 956.8 L588.0 958.0 L591.0 959.2 L594.0 959.5 L597.0 959.4 L600.0 959.2 L603.0 958.9 L606.0 958.5 L609.0 958.0 L612.0 957.4 L615.0 956.3 L618.0 954.8 L621.0 953.1 L624.0 951.1 L627.0 948.6 L630.0 946.0 L633.0 943.6 L636.0 941.0 L639.0 938.6 L642.0 937.0 L645.0 936.6 L648.0 936.3 L651.0 936.1 L654.0 936.0 L657.0 935.8 L660.0 935.4 L663.0 934.9 L666.0 934.6 L669.0 934.6 L672.0 934.6 L675.0 934.6 L678.0 934.6 L681.0 934.6 L684.0 934.5 L687.0 934.3 L690.0 934.0 L693.0 933.7 L696.0 933.3 L699.0 932.9 L702.0 932.4 L705.0 931.6 L708.0 930.5 L711.0 929.2 L714.0 927.6 L717.0 925.8 L720.0 923.8 L723.0 922.0 L726.0 920.1 L729.0 918.3 L732.0 916.6 L735.0 915.0 L738.0 913.5 L741.0 912.0 L744.0 910.5 L747.0 908.9 L750.0 907.3 L753.0 905.9 L756.0 904.8 L759.0 903.8 L762.0 903.0 L765.0 902.3 L768.0 901.7 L771.0 901.1 L774.0 900.7 L777.0 900.2 L780.0 899.8 L783.0 899.4 L786.0 899.1 L789.0 898.7 L792.0 898.5 L795.0 898.2 L798.0 897.8 L801.0 897.4 L804.0 896.9 L807.0 896.4 L810.0 895.8 L813.0 895.1 L816.0 894.4 L819.0 893.6 L822.0 892.7 L825.0 891.8 L828.0 890.9 L831.0 890.1 L834.0 889.5 L837.0 889.0 L840.0 888.3 L843.0 887.6 L846.0 886.8 L849.0 885.8 L852.0 884.8 L855.0 883.7 L858.0 882.4 L861.0 881.1 L864.0 879.9 L867.0 878.7 L870.0 877.4 L873.0 876.3 L876.0 875.4 L879.0 874.6 L882.0 873.7 L885.0 872.7 L888.0 871.5 L891.0 870.2 L894.0 868.9 L897.0 868.0 L900.0 867.1 L903.0 866.3 L906.0 865.3 L909.0 864.1 L912.0 862.8 L915.0 861.7 L918.0 860.7 L921.0 859.8 L924.0 859.0 L927.0 858.6 L930.0 858.5 L933.0 858.5 L936.0 858.4 L939.0 858.4 L942.0 858.3 L945.0 858.3 L948.0 858.3 L951.0 858.5 L954.0 859.1 L957.0 860.2 L960.0 862.4 L963.0 864.9 L966.0 866.7 L969.0 868.3 L972.0 869.3 L975.0 869.6 L978.0 869.7 L981.0 869.8 L984.0 869.2 L987.0 867.4 L990.0 865.5 L993.0 864.0 L996.0 862.6 L999.0 861.1 L1002.0 859.5 L1005.0 857.3 L1008.0 854.9 L1011.0 852.9 L1014.0 851.5 L1017.0 850.2 L1020.0 849.2 L1023.0 848.8 L1026.0 848.9 L1029.0 849.1 L1032.0 849.5 L1035.0 850.1 L1038.0 851.8 L1041.0 854.2 L1044.0 856.8 L1047.0 859.1 L1050.0 861.6 L1053.0 864.0 L1056.0 866.3 L1059.0 868.7 L1062.0 871.0 L1065.0 873.0 L1068.0 874.3 L1071.0 875.6 L1074.0 876.5 L1077.0 877.0 L1080.0 876.7 L1083.0 875.9 L1086.0 874.8 L1089.0 872.8 L1092.0 869.8 L1095.0 866.9 L1098.0 864.2 L1101.0 861.4 L1104.0 858.8 L1107.0 856.2 L1110.0 853.7 L1113.0 851.6 L1116.0 850.2 L1119.0 849.1 L1122.0 848.4 L1125.0 848.5 L1128.0 849.0 L1131.0 849.8 L1134.0 851.0 L1137.0 853.1 L1140.0 855.6 L1143.0 858.1 L1146.0 860.7 L1149.0 863.6 L1152.0 866.3 L1155.0 868.7 L1158.0 871.0 L1161.0 873.1 L1164.0 874.9 L1167.0 876.4 L1170.0 877.8 L1173.0 878.8 L1176.0 879.2 L1179.0 879.5 L1182.0 879.7 L1185.0 879.8 L1188.0 879.3 L1191.0 878.5 L1194.0 877.8 L1197.0 877.2 L1200.0 876.6 L1203.0 876.0 L1206.0 875.4 L1209.0 874.9 L1212.0 874.3 L1215.0 873.7 L1218.0 873.0 L1221.0 872.4 L1224.0 871.9 L1227.0 871.5 L1230.0 871.2 L1233.0 871.0 L1236.0 870.7 L1239.0 870.5 L1242.0 870.2 L1245.0 869.8 L1248.0 869.2 L1251.0 868.4 L1254.0 867.8 L1257.0 867.7 L1260.0 867.7 L1263.0 867.7 L1266.0 867.7 L1269.0 867.7 L1272.0 867.8 L1275.0 868.3 L1278.0 869.3 L1281.0 870.4 L1284.0 872.2 L1287.0 873.8 L1290.0 874.6 L1293.0 875.3 L1296.0 875.9 L1299.0 876.2 L1302.0 876.3 L1305.0 876.0 L1308.0 875.5 L1311.0 874.9 L1314.0 873.5 L1317.0 871.7 L1320.0 870.1 L1323.0 868.7 L1326.0 867.5 L1329.0 866.3 L1332.0 865.3 L1335.0 864.3 L1338.0 863.5 L1341.0 862.8 L1344.0 862.6 L1347.0 862.4 L1350.0 862.3 L1353.0 862.2 L1356.0 862.1 L1359.0 862.0 L1362.0 861.9 L1365.0 861.7 L1368.0 861.6 L1371.0 861.4 L1374.0 861.2 L1377.0 860.9 L1380.0 860.7 L1383.0 860.4 L1386.0 860.0 L1389.0 859.6 L1392.0 858.9 L1395.0 858.2 L1398.0 857.5 L1401.0 856.5 L1404.0 855.5 L1407.0 854.7 L1410.0 854.2 L1413.0 853.7 L1416.0 853.4 L1419.0 853.1 L1422.0 853.0 L1425.0 852.9 L1428.0 852.8 L1431.0 852.7 L1434.0 852.6 L1437.0 852.6 L1440.0 852.5 L1443.0 852.4 L1446.0 852.3 L1449.0 852.3 L1452.0 852.2 L1455.0 852.2 L1458.0 852.1 L1461.0 852.1 L1464.0 852.1 L1467.0 852.1 L1470.0 852.2 L1473.0 852.3 L1476.0 852.4 L1479.0 852.5 L1482.0 853.7 L1485.0 855.7 L1488.0 857.2 L1491.0 858.4 L1494.0 859.4 L1497.0 860.5 L1500.0 861.6 L1503.0 861.7 L1506.0 861.7 L1509.0 861.7 L1512.0 861.7 L1515.0 861.7 L1518.0 861.7 L1521.0 861.7 L1524.0 861.6 L1527.0 860.7 L1530.0 859.7 L1533.0 859.1 L1536.0 859.1 L1539.0 859.1 L1542.0 859.1 L1545.0 859.1 L1548.0 859.1 L1551.0 859.1 L1554.0 859.1 L1557.0 859.1 L1560.0 858.9 L1563.0 858.7 L1566.0 858.5 L1569.0 858.3 L1572.0 858.0 L1575.0 857.9 L1578.0 857.8 L1581.0 857.7 L1584.0 857.6 L1587.0 857.5 L1590.0 857.5 L1593.0 857.4 L1596.0 857.4 L1599.0 857.4 L1602.0 857.5 L1605.0 857.7 L1608.0 858.0 L1611.0 858.5 L1614.0 859.3 L1617.0 860.2 L1620.0 860.7 L1623.0 860.9 L1626.0 861.0 L1629.0 861.1 L1632.0 861.2 L1635.0 861.2 L1638.0 861.3 L1641.0 861.3 L1644.0 861.2 L1647.0 861.0 L1650.0 860.8 L1653.0 860.7 L1656.0 860.7 L1659.0 860.7 L1662.0 860.7 L1665.0 860.7 L1668.0 860.7 L1671.0 860.7 L1674.0 860.6 L1677.0 860.4 L1680.0 860.1 L1683.0 859.8 L1686.0 859.4 L1689.0 858.6 L1692.0 857.6 L1695.0 856.5 L1698.0 855.3 L1701.0 853.8 L1704.0 852.2 L1707.0 850.6 L1710.0 848.8 L1713.0 847.0 L1716.0 845.1 L1719.0 843.3 L1722.0 841.5 L1725.0 839.7 L1728.0 837.9 L1731.0 836.1 L1734.0 834.3 L1737.0 832.5 L1740.0 830.7 L1743.0 829.1 L1746.0 827.4 L1749.0 825.8 L1752.0 823.9 L1755.0 822.0 L1758.0 820.0 L1761.0 818.1 L1764.0 816.3 L1767.0 814.5 L1770.0 812.8 L1773.0 811.0 L1776.0 809.1 L1779.0 807.3 L1782.0 805.6 L1785.0 803.9 L1788.0 802.4 L1791.0 801.0 L1794.0 799.6 L1797.0 798.4 L1800.0 797.2 L1803.0 796.2 L1803.5 796.0" stroke="#dd6a12" stroke-width="6.4"/>
<path d="M180.0 1199.0 L183.0 1198.8 L186.0 1198.2 L189.0 1197.4 L192.0 1196.5 L195.0 1194.9 L198.0 1192.6 L201.0 1189.9 L204.0 1186.4 L207.0 1181.6 L210.0 1175.6 L213.0 1168.3 L216.0 1161.1 L219.0 1154.2 L222.0 1147.2 L225.0 1139.9 L228.0 1133.3 L231.0 1127.1 L234.0 1122.3 L237.0 1119.2 L240.0 1117.1 L243.0 1116.0 L246.0 1115.2 L249.0 1114.7 L252.0 1114.5 L255.0 1114.3 L258.0 1114.2 L261.0 1114.0 L264.0 1113.8 L267.0 1113.5 L270.0 1112.8 L273.0 1111.5 L276.0 1110.0 L279.0 1108.4 L282.0 1106.5 L285.0 1104.3 L288.0 1101.9 L291.0 1099.1 L294.0 1095.9 L297.0 1092.7 L300.0 1090.1 L303.0 1087.9 L306.0 1085.9 L309.0 1083.9 L312.0 1081.8 L315.0 1079.8 L318.0 1077.7 L321.0 1075.4 L324.0 1072.6 L327.0 1069.6 L330.0 1066.9 L333.0 1065.1 L336.0 1063.6 L339.0 1063.1 L342.0 1063.0 L345.0 1062.9 L348.0 1062.9 L351.0 1062.8 L354.0 1062.7 L357.0 1062.5 L360.0 1062.3 L363.0 1062.1 L366.0 1061.8 L369.0 1061.5 L372.0 1061.1 L375.0 1060.5 L378.0 1058.9 L381.0 1056.3 L384.0 1053.3 L387.0 1050.5 L390.0 1047.5 L393.0 1044.6 L396.0 1042.4 L399.0 1041.0 L402.0 1039.9 L405.0 1039.0 L408.0 1038.3 L411.0 1037.8 L414.0 1037.4 L417.0 1037.0 L420.0 1036.4 L423.0 1035.6 L426.0 1034.7 L429.0 1033.7 L432.0 1032.6 L435.0 1031.3 L438.0 1029.7 L441.0 1028.0 L444.0 1026.2 L447.0 1024.1 L450.0 1021.9 L453.0 1019.7 L456.0 1017.6 L459.0 1015.5 L462.0 1013.4 L465.0 1011.3 L468.0 1009.2 L471.0 1007.1 L474.0 1005.1 L477.0 1003.1 L480.0 1001.1 L483.0 999.4 L486.0 998.1 L489.0 997.0 L492.0 996.1 L495.0 995.4 L498.0 994.7 L501.0 994.2 L504.0 993.7 L507.0 993.0 L510.0 991.9 L513.0 990.6 L516.0 989.3 L519.0 988.0 L522.0 986.6 L525.0 985.3 L528.0 984.4 L531.0 984.0 L534.0 983.6 L537.0 983.4 L540.0 983.4 L543.0 984.3 L546.0 985.7 L549.0 986.5 L552.0 986.6 L555.0 986.6 L558.0 986.6 L561.0 986.6 L564.0 986.1 L567.0 985.1 L570.0 983.9 L573.0 982.6 L576.0 980.8 L579.0 978.7 L582.0 976.9 L585.0 975.5 L588.0 974.2 L591.0 973.1 L594.0 972.3 L597.0 971.7 L600.0 971.2 L603.0 970.9 L606.0 970.7 L609.0 970.6 L612.0 970.6 L615.0 970.6 L618.0 970.5 L621.0 970.5 L624.0 970.4 L627.0 970.0 L630.0 968.6 L633.0 966.4 L636.0 964.2 L639.0 962.0 L642.0 959.7 L645.0 957.1 L648.0 954.5 L651.0 951.5 L654.0 948.4 L657.0 945.4 L660.0 942.4 L663.0 939.4 L666.0 936.6 L669.0 934.5 L672.0 933.0 L675.0 931.8 L678.0 930.8 L681.0 929.9 L684.0 929.2 L687.0 928.6 L690.0 928.1 L693.0 927.5 L696.0 927.0 L699.0 926.5 L702.0 925.9 L705.0 925.3 L708.0 924.7 L711.0 923.8 L714.0 922.4 L717.0 920.4 L720.0 918.4 L723.0 916.7 L726.0 915.1 L729.0 913.7 L732.0 912.2 L735.0 910.7 L738.0 909.1 L741.0 907.6 L744.0 906.3 L747.0 905.0 L750.0 903.9 L753.0 902.9 L756.0 902.4 L759.0 901.9 L762.0 901.5 L765.0 901.2 L768.0 900.9 L771.0 900.6 L774.0 900.3 L777.0 900.1 L780.0 899.8 L783.0 899.5 L786.0 899.1 L789.0 898.5 L792.0 897.8 L795.0 897.0 L798.0 896.0 L801.0 894.9 L804.0 893.5 L807.0 892.1 L810.0 890.5 L813.0 888.8 L816.0 886.9 L819.0 885.0 L822.0 883.2 L825.0 881.3 L828.0 879.5 L831.0 877.9 L834.0 876.4 L837.0 874.9 L840.0 873.4 L843.0 871.7 L846.0 869.9 L849.0 868.0 L852.0 866.3 L855.0 864.6 L858.0 863.0 L861.0 861.7 L864.0 860.7 L867.0 860.0 L870.0 859.4 L873.0 858.6 L876.0 857.7 L879.0 856.6 L882.0 855.4 L885.0 854.3 L888.0 853.1 L891.0 851.9 L894.0 850.6 L897.0 849.2 L900.0 847.7 L903.0 846.2 L906.0 844.6 L909.0 843.1 L912.0 841.5 L915.0 840.1 L918.0 838.9 L921.0 838.0 L924.0 837.1 L927.0 836.3 L930.0 835.6 L933.0 835.0 L936.0 834.4 L939.0 834.0 L942.0 833.7 L945.0 833.4 L948.0 833.1 L951.0 832.6 L954.0 831.7 L957.0 830.7 L960.0 829.7 L963.0 828.6 L966.0 827.4 L969.0 826.2 L972.0 824.8 L975.0 823.3 L978.0 821.7 L981.0 820.2 L984.0 818.9 L987.0 817.7 L990.0 816.6 L993.0 815.8 L996.0 815.0 L999.0 814.4 L1002.0 814.2 L1005.0 814.5 L1008.0 815.1 L1011.0 815.9 L1014.0 817.0 L1017.0 818.6 L1020.0 820.7 L1023.0 822.7 L1026.0 824.7 L1029.0 827.0 L1032.0 828.7 L1035.0 829.5 L1038.0 830.0 L1041.0 830.2 L1044.0 830.4 L1047.0 830.3 L1050.0 829.8 L1053.0 829.1 L1056.0 828.2 L1059.0 826.6 L1062.0 824.2 L1065.0 821.2 L1068.0 817.9 L1071.0 813.7 L1074.0 808.7 L1077.0 803.2 L1080.0 796.6 L1083.0 789.4 L1086.0 781.9 L1089.0 773.7 L1092.0 764.6 L1095.0 754.6 L1098.0 743.6 L1101.0 731.6 L1104.0 720.4 L1107.0 712.1 L1110.0 706.0 L1113.0 701.3 L1116.0 697.4 L1119.0 694.9 L1122.0 693.2 L1125.0 692.4 L1128.0 693.2 L1131.0 694.9 L1134.0 697.8 L1137.0 702.5 L1140.0 707.5 L1143.0 713.1 L1146.0 718.9 L1149.0 725.0 L1152.0 731.0 L1155.0 736.6 L1158.0 742.1 L1161.0 747.1 L1164.0 751.6 L1167.0 755.8 L1170.0 759.6 L1173.0 763.0 L1176.0 766.0 L1179.0 768.8 L1182.0 771.4 L1185.0 773.8 L1188.0 776.1 L1191.0 778.0 L1194.0 779.7 L1197.0 781.1 L1200.0 782.5 L1203.0 784.0 L1206.0 785.4 L1209.0 786.9 L1212.0 788.4 L1215.0 790.1 L1218.0 791.9 L1221.0 793.8 L1224.0 795.6 L1227.0 797.5 L1230.0 799.3 L1233.0 801.1 L1236.0 802.8 L1239.0 804.6 L1242.0 806.1 L1245.0 807.1 L1248.0 807.7 L1251.0 808.2 L1254.0 808.5 L1257.0 808.6 L1260.0 808.6 L1263.0 808.6 L1266.0 808.6 L1269.0 808.6 L1272.0 808.6 L1275.0 808.6 L1278.0 808.6 L1281.0 808.5 L1284.0 808.3 L1287.0 808.1 L1290.0 807.8 L1293.0 807.6 L1296.0 807.3 L1299.0 807.1 L1302.0 806.9 L1305.0 806.7 L1308.0 806.5 L1311.0 806.3 L1314.0 806.2 L1317.0 806.1 L1320.0 806.0 L1323.0 806.0 L1326.0 806.0 L1329.0 806.0 L1332.0 806.0 L1335.0 806.0 L1338.0 806.0 L1341.0 806.0 L1344.0 806.0 L1347.0 806.1 L1350.0 806.2 L1353.0 806.4 L1356.0 806.6 L1359.0 806.8 L1362.0 807.0 L1365.0 807.2 L1368.0 807.4 L1371.0 807.6 L1374.0 807.7 L1377.0 807.6 L1380.0 807.1 L1383.0 806.5 L1386.0 805.9 L1389.0 805.2 L1392.0 804.3 L1395.0 803.3 L1398.0 802.2 L1401.0 801.0 L1404.0 799.7 L1407.0 798.5 L1410.0 797.1 L1413.0 795.7 L1416.0 794.5 L1419.0 794.0 L1422.0 793.8 L1425.0 793.7 L1428.0 793.5 L1431.0 793.4 L1434.0 793.2 L1437.0 793.1 L1440.0 792.9 L1443.0 792.7 L1446.0 792.5 L1449.0 792.2 L1452.0 791.7 L1455.0 790.8 L1458.0 789.7 L1461.0 788.8 L1464.0 788.1 L1467.0 787.5 L1470.0 786.9 L1473.0 786.3 L1476.0 785.4 L1479.0 784.5 L1482.0 783.9 L1485.0 784.1 L1488.0 784.7 L1491.0 784.9 L1494.0 784.4 L1497.0 783.7 L1500.0 782.9 L1503.0 782.4 L1506.0 781.9 L1509.0 781.4 L1512.0 781.3 L1515.0 781.3 L1518.0 781.3 L1521.0 781.3 L1524.0 781.4 L1527.0 782.3 L1530.0 783.5 L1533.0 784.3 L1536.0 784.5 L1539.0 784.7 L1542.0 784.9 L1545.0 784.9 L1548.0 784.4 L1551.0 783.6 L1554.0 782.9 L1557.0 782.6 L1560.0 782.5 L1563.0 782.3 L1566.0 782.2 L1569.0 782.1 L1572.0 782.0 L1575.0 781.8 L1578.0 781.6 L1581.0 781.4 L1584.0 781.1 L1587.0 780.7 L1590.0 779.9 L1593.0 778.7 L1596.0 777.3 L1599.0 776.0 L1602.0 774.7 L1605.0 773.5 L1608.0 772.3 L1611.0 771.3 L1614.0 770.3 L1617.0 769.5 L1620.0 769.1 L1623.0 768.9 L1626.0 768.8 L1629.0 768.7 L1632.0 768.7 L1635.0 768.6 L1638.0 768.5 L1641.0 768.3 L1644.0 768.0 L1647.0 767.5 L1650.0 766.9 L1653.0 766.4 L1656.0 765.9 L1659.0 765.4 L1662.0 764.9 L1665.0 764.6 L1668.0 764.3 L1671.0 764.0 L1674.0 763.9 L1677.0 764.0 L1680.0 764.1 L1683.0 764.3 L1686.0 764.5 L1689.0 764.8 L1692.0 765.2 L1695.0 766.0 L1698.0 767.3 L1701.0 768.7 L1704.0 769.8 L1707.0 770.7 L1710.0 771.3 L1713.0 771.3 L1716.0 771.2 L1719.0 771.1 L1722.0 771.0 L1725.0 770.8 L1728.0 770.5 L1731.0 770.0 L1734.0 769.5 L1737.0 769.0 L1740.0 768.5 L1743.0 768.0 L1746.0 767.6 L1749.0 767.1 L1752.0 766.7 L1755.0 766.3 L1758.0 765.9 L1761.0 765.4 L1764.0 764.9 L1767.0 764.3 L1770.0 763.6 L1773.0 762.8 L1776.0 761.9 L1779.0 760.8 L1782.0 759.6 L1785.0 758.4 L1788.0 757.0 L1791.0 755.5 L1794.0 754.1 L1797.0 752.6 L1800.0 751.1 L1803.0 749.6 L1803.5 749.3" stroke="#7a71ab" stroke-width="6.4"/>
</g>
<g fill="#000">
<rect x="178" y="27" width="5.2" height="1324"/>
<rect x="1802.8" y="27" width="5.2" height="1338"/>
<rect x="178" y="27" width="1630" height="5.4"/>
<rect x="178" y="1334.8" width="1630" height="5"/>
<rect x="285.6" y="1338" width="5.2" height="27"/>
<rect x="502.1" y="1338" width="5.2" height="27"/>
<rect x="718.7" y="1338" width="5.2" height="27"/>
<rect x="935.2" y="1338" width="5.2" height="27"/>
<rect x="1151.7" y="1338" width="5.2" height="27"/>
<rect x="1368.3" y="1338" width="5.2" height="27"/>
<rect x="1584.8" y="1338" width="5.2" height="27"/>
<rect x="393.9" y="1338" width="5.2" height="13"/>
<rect x="610.4" y="1338" width="5.2" height="13"/>
<rect x="826.9" y="1338" width="5.2" height="13"/>
<rect x="1043.5" y="1338" width="5.2" height="13"/>
<rect x="1260.0" y="1338" width="5.2" height="13"/>
<rect x="1476.5" y="1338" width="5.2" height="13"/>
<rect x="1693.0" y="1338" width="5.2" height="13"/>
</g>
<line x1="205" y1="145.6" x2="363" y2="145.6" stroke="#048f78" stroke-width="7"/>
<line x1="205" y1="228.6" x2="363" y2="228.6" stroke="#dd6a12" stroke-width="7"/>
<line x1="205" y1="312.2" x2="363" y2="312.2" stroke="#7a71ab" stroke-width="7"/>
<g font-family="'Liberation Sans', Arial, sans-serif" fill="#000" style="font-kerning:none">
<text transform="translate(288.0 1425.2) scale(1 1.04)" font-size="55.4" text-anchor="middle" stroke="#fff" stroke-width="1">100</text>
<text transform="translate(504.5 1425.2) scale(1 1.04)" font-size="55.4" text-anchor="middle" stroke="#fff" stroke-width="1">200</text>
<text transform="translate(721.1 1425.2) scale(1 1.04)" font-size="55.4" text-anchor="middle" stroke="#fff" stroke-width="1">300</text>
<text transform="translate(937.6 1425.2) scale(1 1.04)" font-size="55.4" text-anchor="middle" stroke="#fff" stroke-width="1">400</text>
<text transform="translate(1154.1 1425.2) scale(1 1.04)" font-size="55.4" text-anchor="middle" stroke="#fff" stroke-width="1">500</text>
<text transform="translate(1370.7 1425.2) scale(1 1.04)" font-size="55.4" text-anchor="middle" stroke="#fff" stroke-width="1">600</text>
<text transform="translate(1587.2 1425.2) scale(1 1.04)" font-size="55.4" text-anchor="middle" stroke="#fff" stroke-width="1">700</text>
<text transform="translate(1803.7 1425.2) scale(1 1.04)" font-size="55.4" text-anchor="middle" stroke="#fff" stroke-width="1">800</text>
<text transform="translate(992.3 1528) scale(1 1.035)" font-size="68.3" text-anchor="middle">Temperature (°C)</text>
<text transform="translate(82 681.8) rotate(-90) scale(1 1.035)" font-size="68.3" text-anchor="middle">TCD signal (a.u.)</text>
<text transform="translate(378 167.8) scale(1 1.035)" font-size="68" text-anchor="start">Y-parent-Pt</text>
<text transform="translate(378 251) scale(1 1.035)" font-size="68" text-anchor="start">Y-DTPA-0.01-Pt</text>
<text transform="translate(378 335) scale(1 1.035)" font-size="68" text-anchor="start">Y-DTPA-0.1-Pt</text>
<text transform="translate(1461 190.3) scale(1 1.035)" font-size="80" text-anchor="start" stroke="#000" stroke-width="0.7">H<tspan font-size="51" dy="16">2</tspan><tspan dy="-16">-TPR</tspan></text>
</g>
</g>
</svg>
</body></html>
